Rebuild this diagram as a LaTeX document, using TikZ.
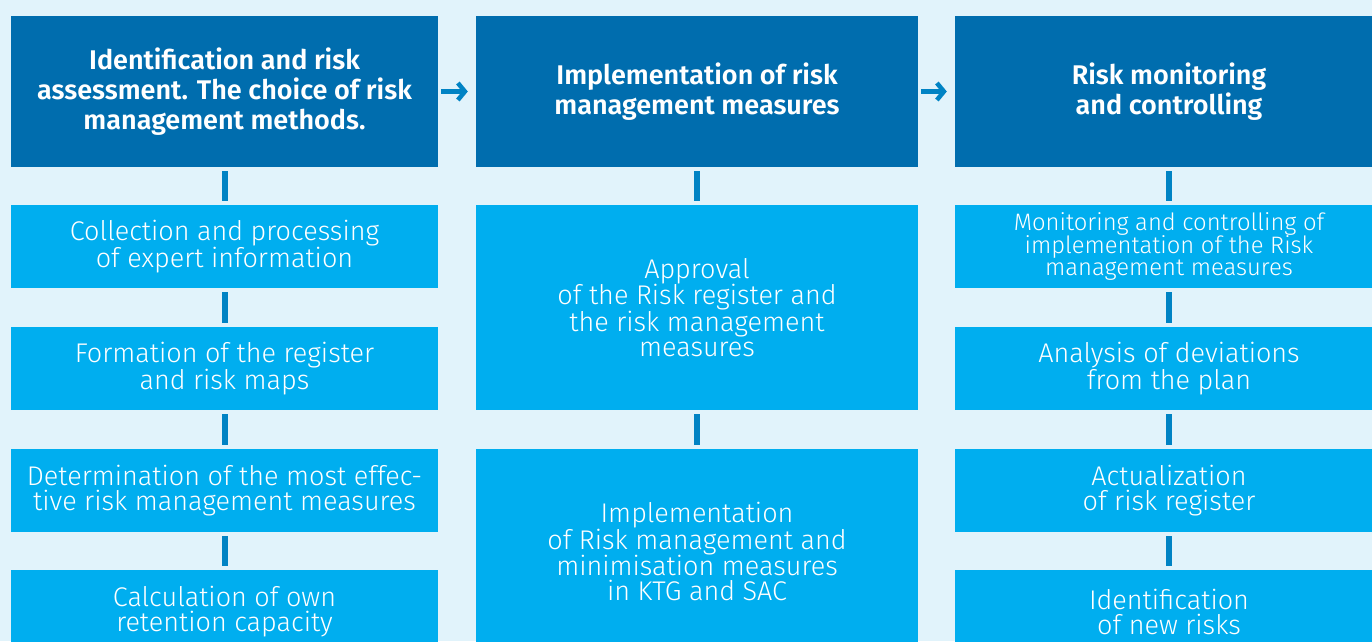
\documentclass[tikz,border=0pt]{standalone}
\usepackage{fontspec}
\setmainfont{Fira Sans}[UprightFont={* Light}]
\usetikzlibrary{arrows.meta}
\definecolor{paleblue}{HTML}{E1F3FB}
\definecolor{deepblue}{HTML}{006DAE}
\definecolor{skyblue}{HTML}{00AEEF}
\definecolor{lineblue}{HTML}{0083C4}
\tikzset{head/.style={fill=deepblue,text=white,inner sep=0pt,align=center,
           font=\bfseries\fontsize{27}{30}\selectfont},
         item/.style={fill=skyblue,text=white,inner sep=0pt,align=center,
           font=\fontsize{27}{25}\selectfont},
         link/.style={line width=6pt,lineblue,shorten <=4pt,shorten >=4pt},
         flow/.style={-{Straight Barb[length=7pt,width=17pt]},line width=4.5pt,
           lineblue,shorten <=3pt,shorten >=8pt}}

\begin{document}
\begin{tikzpicture}[x=1pt,y=-1pt]
  \useasboundingbox (0,0) rectangle (1372,641);
  \clip (0,0) rectangle (1372,641);
  \fill[paleblue] (0,0) rectangle (1372,641);
  % headers
  \node[head,minimum width=427pt,minimum height=151pt] (h1) at (224.5,91.5)
    {Identification and risk\\assessment. The choice of risk\\management methods.};
  \node[head,minimum width=442pt,minimum height=151pt] (h2) at (697,91.5)
    {Implementation of risk\\management measures};
  \node[head,minimum width=428pt,minimum height=151pt] (h3) at (1169,91.5)
    {Risk monitoring\\and controlling};
  \draw[flow] (h1) -- (h2);
  \draw[flow] (h2) -- (h3);
  % first column
  \node[item,minimum width=427pt,minimum height=83pt] (a1) at (224.5,246.5)
    {Collection and processing\\of expert information};
  \node[item,minimum width=427pt,minimum height=83pt] (a2) at (224.5,368.5)
    {Formation of the register\\and risk maps};
  \node[item,minimum width=427pt,minimum height=83pt] (a3) at (224.5,490.5)
    {Determination of the most effec-\\tive risk management measures};
  \node[item,minimum width=427pt,minimum height=83pt] (a4) at (224.5,611.5)
    {Calculation of own\\retention capacity};
  % second column
  \node[item,minimum width=442pt,minimum height=205pt] (b1) at (697,307.5)
    {Approval\\of the Risk register and\\the risk management\\measures};
  \node[item,minimum width=442pt,minimum height=205pt] (b2) at (697,551.5)
    {Implementation\\of Risk management and\\minimisation measures\\in KTG and SAC};
  % third column
  \node[item,minimum width=428pt,minimum height=83pt,
    font=\fontsize{23.8}{22}\selectfont] (c1) at (1169,246.5)
    {Monitoring and controlling of\\implementation of the Risk\\management measures};
  \node[item,minimum width=428pt,minimum height=83pt] (c2) at (1169,368.5)
    {Analysis of deviations\\from the plan};
  \node[item,minimum width=428pt,minimum height=83pt] (c3) at (1169,490.5)
    {Actualization\\of risk register};
  \node[item,minimum width=428pt,minimum height=83pt] (c4) at (1169,611.5)
    {Identification\\of new risks};
  \draw[link] (h1) -- (a1);
  \draw[link] (a1) -- (a2);
  \draw[link] (a2) -- (a3);
  \draw[link] (a3) -- (a4);
  \draw[link] (h2) -- (b1);
  \draw[link] (b1) -- (b2);
  \draw[link] (h3) -- (c1);
  \draw[link] (c1) -- (c2);
  \draw[link] (c2) -- (c3);
  \draw[link] (c3) -- (c4);
\end{tikzpicture}
\end{document}
